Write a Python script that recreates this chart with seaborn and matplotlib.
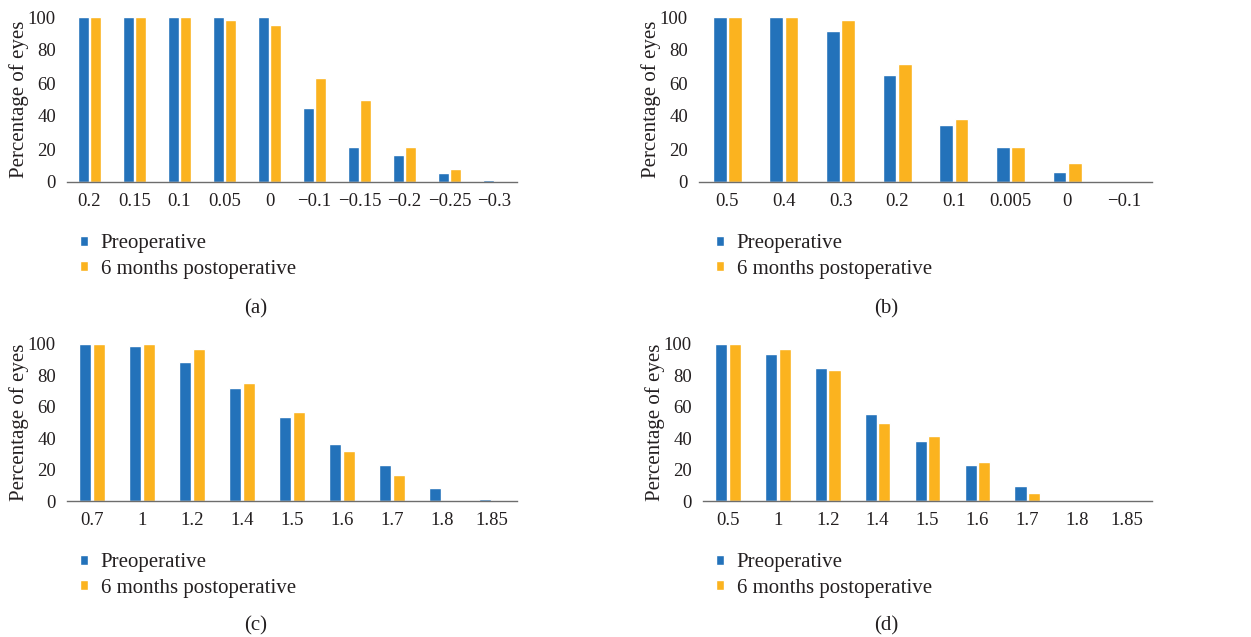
import pandas as pd
import numpy as np
import seaborn as sns
import matplotlib.pyplot as plt

# --- data ---
periods = ['Preoperative', '6 months postoperative']

cats_a = ['0.2', '0.15', '0.1', '0.05', '0', '\u22120.1', '\u22120.15', '\u22120.2', '\u22120.25', '\u22120.3']
pre_a = [100, 100, 100, 100, 100, 45, 21.5, 16.5, 5.2, 1.4]
post_a = [100, 100, 100, 98.2, 95.2, 63.1, 49.8, 21.5, 8.1, 0]

cats_b = ['0.5', '0.4', '0.3', '0.2', '0.1', '0.005', '0', '\u22120.1']
pre_b = [100, 100, 91.5, 64.9, 34.7, 21.5, 6.3, 0]
post_b = [100, 100, 98.2, 71.6, 38.3, 21.5, 11.7, 0]

cats_c = ['0.7', '1', '1.2', '1.4', '1.5', '1.6', '1.7', '1.8', '1.85']
pre_c = [100, 98.7, 88.5, 72, 53.5, 36.3, 22.9, 8.3, 1.3]
post_c = [100, 100, 96.8, 75.2, 56.7, 31.8, 16.6, 0, 0]

cats_d = ['0.5', '1', '1.2', '1.4', '1.5', '1.6', '1.7', '1.8', '1.85']
pre_d = [100, 93.6, 84.7, 55.4, 38.2, 22.9, 9.6, 0, 0]
post_d = [100, 96.8, 83.4, 49.7, 41.4, 24.8, 5.1, 0, 0]

colors = ['#2372ba', '#fbb31f']
txt = '#231f20'

sns.set_style('white')
plt.rcParams['font.family'] = ['Liberation Serif', 'DejaVu Serif']

fig = plt.figure(figsize=(12.51, 6.37), dpi=100)
W, H = 1251, 637

# panel boxes in pixels: left, right, top, bottom
panels = [
    (cats_a, pre_a, post_a, (67, 517, 17, 182), (72, 226), (256, 309), '(a)'),
    (cats_b, pre_b, post_b, (699, 1152, 17, 182), (708, 226), (886, 309), '(b)'),
    (cats_c, pre_c, post_c, (67, 517, 344, 501), (72, 545), (256, 626), '(c)'),
    (cats_d, pre_d, post_d, (703, 1152, 344, 501), (708, 545), (886, 626), '(d)'),
]

for cats, pre, post, box, leg, cap, label in panels:
    l, r, t, b = box
    ax = fig.add_axes([l / W, 1 - b / H, (r - l) / W, (b - t) / H])
    df = pd.DataFrame({
        'level': cats * 2,
        'pct': pre + post,
        'period': [periods[0]] * len(cats) + [periods[1]] * len(cats),
    })
    sns.barplot(data=df, x='level', y='pct', hue='period', order=cats,
                hue_order=periods, palette=colors, width=0.54, gap=0.1,
                saturation=1, ax=ax, legend=True)
    ax.set_ylim(0, 100)
    ax.set_xlim(-0.5, len(cats) - 0.5)
    ax.set_yticks(np.arange(0, 101, 20))
    ax.set_xlabel('')
    ax.set_ylabel('Percentage of eyes', color=txt, labelpad=-1, fontsize=15)
    ax.tick_params(axis='both', length=0, colors=txt, labelsize=13.5)
    ax.tick_params(axis='x', pad=8)
    ax.tick_params(axis='y', pad=8)
    for s in ['top', 'right', 'left']:
        ax.spines[s].set_visible(False)
    ax.spines['bottom'].set_color('#6d6d6d')
    ax.spines['bottom'].set_linewidth(1.0)
    ax.patch.set_alpha(0)

    h, lab = ax.get_legend_handles_labels()
    ax.get_legend().remove()
    fig.legend(h, lab, loc='upper left',
               bbox_to_anchor=(leg[0] / W, 1 - leg[1] / H),
               frameon=False, handlelength=0.35, handleheight=0.35,
               handletextpad=0.62, labelspacing=0.3, fontsize=15,
               labelcolor=txt, borderaxespad=0)
    fig.text(cap[0] / W, 1 - cap[1] / H, label, ha='center', va='center',
             color=txt, fontsize=15)

fig.savefig('out.png', dpi=100)
